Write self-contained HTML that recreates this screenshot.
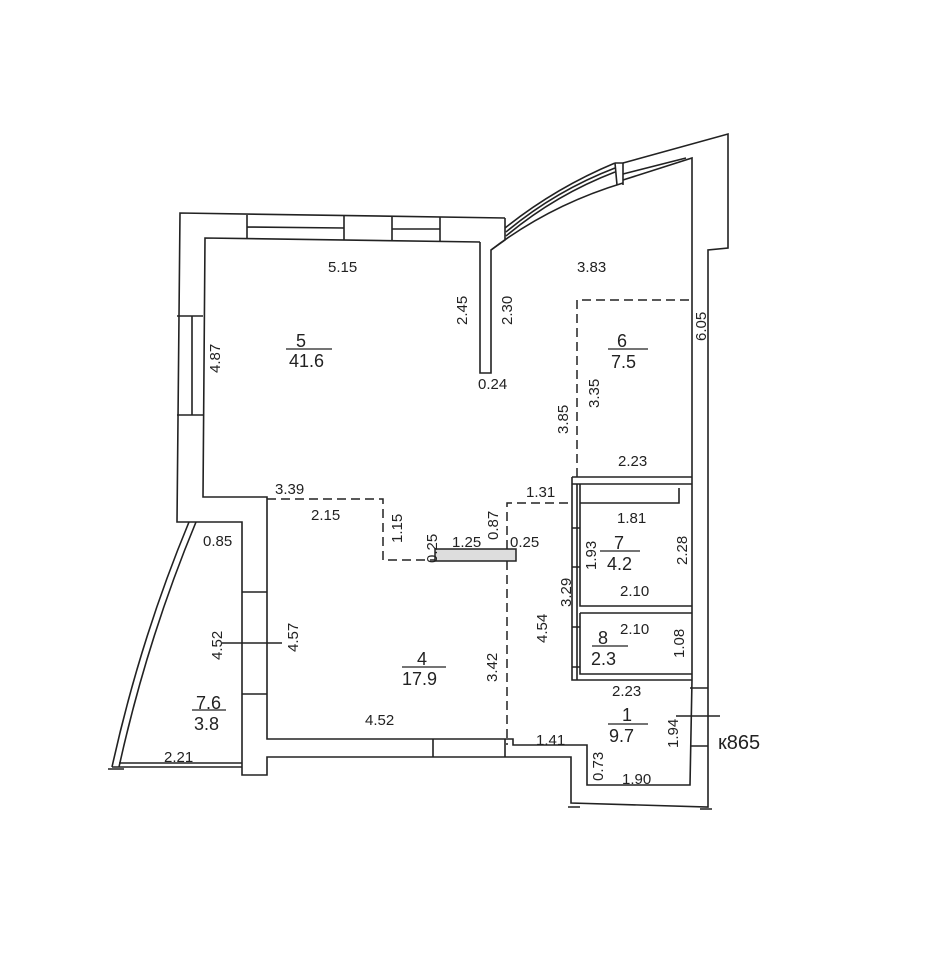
<!DOCTYPE html>
<html><head><meta charset="utf-8"><style>
html,body{margin:0;padding:0;background:#fff;}
svg{display:block;}
text{font-family:"Liberation Sans",sans-serif;font-size:15px;fill:#222;}
</style></head><body>
<svg width="928" height="960" viewBox="0 0 928 960" xmlns="http://www.w3.org/2000/svg">
<g fill="none" stroke="#222" stroke-width="1.6">
<path d="M505,218 L180,213 L177,522 L242,522 L242,775 L267,775 L267,757 L571,757 L571,803 L708,807 L708,250 L728,248 L728,134 L623,163"/>
<path d="M480,242 L205,238 L203,497 L267,497 L267,739 L513,739 L513,745 L587,745 L587,785 L690,785 L692,680"/>
<path d="M692,680 L692,158 L623,180"/>
<path d="M247,215 L247,239 M344,216 L344,240 M392,217 L392,240 M440,217 L440,241 M247,227 L344,228 M392,229 L440,229"/>
<path d="M177,316 L203,316 M177,415 L203,415 M192,316 L192,415"/>
<path d="M480,242 L480,373 L491,373 L491,250 L505,240 L505,218"/>
<path d="M491,250 Q550,205 623,183"/>
<path d="M506,236 Q555,195 615,172"/>
<path d="M506,232 Q555,191 615,168"/>
<path d="M505,228 Q555,188 615,163"/>
<path d="M615,163 L623,163 L623,185 M615,163 L617,185"/>
<path d="M623,174 L686,158" />
<path d="M690,688 L708,688 M690,746 L708,746 M676,716 L720,716"/>
<path d="M572,477 L692,477 M572,484 L692,484 M572,477 L572,680 L692,680"/>
<path d="M577,484 L577,680"/>
<path d="M580,484 L580,606 L692,606 M580,503 L679,503 L679,488 M580,613 L692,613 M580,613 L580,674 L692,674"/>
<path d="M572,528 L580,528 M572,567 L580,567 M572,627 L580,627 M572,667 L580,667"/>
<path d="M242,592 L267,592 M242,694 L267,694 M222,643 L282,643"/>
<path d="M433,739 L433,757 M505,739 L505,757"/>
<path d="M189,522 Q140,640 112,767 M196,522 Q147,640 119,767"/>
<path d="M112,767 L242,767 M119,763 L242,763 M108,769 L124,769"/>
<path d="M568,807 L580,807 M700,809 L712,809"/>
</g>
<g fill="none" stroke="#222" stroke-width="1.5" stroke-dasharray="9,5">
<path d="M267,499 L383,499 L383,560 L435,560"/>
<path d="M507,549 L507,503 L572,503"/>
<path d="M507,561 L507,745"/>
<path d="M577,477 L577,300 L692,300"/>
</g>
<rect x="435" y="549" width="81" height="12" fill="#ddd" stroke="#222" stroke-width="1.5"/>
<g stroke="#222" stroke-width="1.3">
<line x1="286" y1="349" x2="332" y2="349"/>
<line x1="608" y1="349" x2="648" y2="349"/>
<line x1="600" y1="551" x2="640" y2="551"/>
<line x1="592" y1="646" x2="628" y2="646"/>
<line x1="402" y1="667" x2="446" y2="667"/>
<line x1="608" y1="724" x2="648" y2="724"/>
<line x1="192" y1="710" x2="226" y2="710"/>
</g>
<g>
<text x="328" y="272">5.15</text>
<text x="577" y="272">3.83</text>
<text x="296" y="347" style="font-size:18px">5</text>
<text x="289" y="367" style="font-size:18px">41.6</text>
<text x="617" y="347" style="font-size:18px">6</text>
<text x="611" y="368" style="font-size:18px">7.5</text>
<text x="478" y="389">0.24</text>
<text x="618" y="466">2.23</text>
<text x="275" y="494">3.39</text>
<text x="311" y="520">2.15</text>
<text x="526" y="497">1.31</text>
<text x="617" y="523">1.81</text>
<text x="203" y="546">0.85</text>
<text x="452" y="547">1.25</text>
<text x="510" y="547">0.25</text>
<text x="614" y="549" style="font-size:18px">7</text>
<text x="607" y="570" style="font-size:18px">4.2</text>
<text x="620" y="596">2.10</text>
<text x="620" y="634">2.10</text>
<text x="598" y="644" style="font-size:18px">8</text>
<text x="591" y="665" style="font-size:18px">2.3</text>
<text x="417" y="665" style="font-size:18px">4</text>
<text x="402" y="685" style="font-size:18px">17.9</text>
<text x="612" y="696">2.23</text>
<text x="622" y="721" style="font-size:18px">1</text>
<text x="609" y="742" style="font-size:18px">9.7</text>
<text x="196" y="709" style="font-size:18px">7.6</text>
<text x="194" y="730" style="font-size:18px">3.8</text>
<text x="365" y="725">4.52</text>
<text x="536" y="745">1.41</text>
<text x="164" y="762">2.21</text>
<text x="622" y="784">1.90</text>
<text x="718" y="749" style="font-size:20px">к865</text>
<g>
<text transform="translate(220,373) rotate(-90)">4.87</text>
<text transform="translate(467,325) rotate(-90)">2.45</text>
<text transform="translate(512,325) rotate(-90)">2.30</text>
<text transform="translate(706,341) rotate(-90)">6.05</text>
<text transform="translate(568,434) rotate(-90)">3.85</text>
<text transform="translate(599,408) rotate(-90)">3.35</text>
<text transform="translate(402,543) rotate(-90)">1.15</text>
<text transform="translate(437,563) rotate(-90)">0.25</text>
<text transform="translate(498,540) rotate(-90)">0.87</text>
<text transform="translate(596,570) rotate(-90)">1.93</text>
<text transform="translate(687,565) rotate(-90)">2.28</text>
<text transform="translate(571,607) rotate(-90)">3.29</text>
<text transform="translate(547,643) rotate(-90)">4.54</text>
<text transform="translate(684,658) rotate(-90)">1.08</text>
<text transform="translate(298,652) rotate(-90)">4.57</text>
<text transform="translate(222,660) rotate(-90)">4.52</text>
<text transform="translate(497,682) rotate(-90)">3.42</text>
<text transform="translate(678,748) rotate(-90)">1.94</text>
<text transform="translate(603,781) rotate(-90)">0.73</text>
</g>
</g>
</svg>
</body></html>
